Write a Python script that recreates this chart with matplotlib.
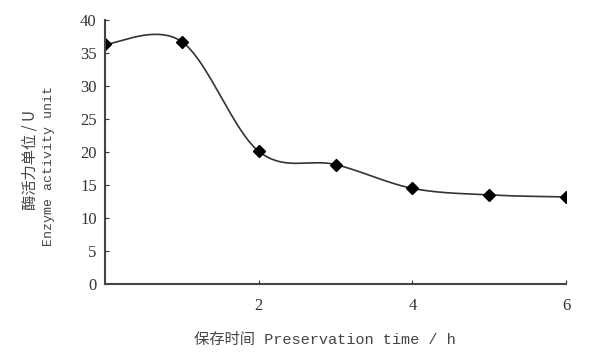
import numpy as np
import matplotlib
matplotlib.use("Agg")
import matplotlib.pyplot as plt

hours = [0, 1, 2, 3, 4, 5, 6]
activity = [36.3, 36.7, 20.1, 18.1, 14.5, 13.5, 13.2]
xticks = [2, 4, 6]
yticks = [0, 5, 10, 15, 20, 25, 30, 35, 40]

plt.rcParams['font.family'] = ['Liberation Serif', 'Noto Sans CJK SC']

def smooth(x, y, n=40, t=0.5):
    x = np.asarray(x, float); y = np.asarray(y, float)
    px = np.concatenate([[x[0]], x, [x[-1]]])
    py = np.concatenate([[y[0]], y, [y[-1]]])
    X, Y = [], []
    for i in range(1, len(px) - 2):
        p0 = np.array([px[i-1], py[i-1]]); p1 = np.array([px[i], py[i]])
        p2 = np.array([px[i+1], py[i+1]]); p3 = np.array([px[i+2], py[i+2]])
        c1 = p1 + (p2 - p0) * t / 3
        c2 = p2 - (p3 - p1) * t / 3
        s = np.linspace(0, 1, n)[:, None]
        b = (1-s)**3*p1 + 3*(1-s)**2*s*c1 + 3*(1-s)*s**2*c2 + s**3*p2
        X.extend(b[:, 0]); Y.extend(b[:, 1])
    return X, Y

fig = plt.figure(figsize=(5.97, 3.56), dpi=100)
ax = fig.add_axes([0.176, 0.202, 0.772, 0.742])
sx, sy = smooth(hours, activity)
ax.plot(sx, sy, color='#333333', lw=1.2)
ax.plot(hours, activity, linestyle='none', marker='D', ms=6.5, color='black')
ax.set_xlim(0, 6)
ax.set_ylim(0, 40)
ax.set_xticks(xticks)
ax.set_yticks(yticks)
ax.tick_params(direction='in', length=3, labelsize=12, colors='#333333', pad=6)
ax.tick_params(axis='x', pad=10)
for s in ['top', 'right']:
    ax.spines[s].set_visible(False)
for s in ['left', 'bottom']:
    ax.spines[s].set_linewidth(1.5)
    ax.spines[s].set_color('#444444')
fig.text(0.05, 0.55, '酶活力单位 / U', rotation=90, ha='center', va='center',
         fontsize=11, color='#444444', family=['Noto Sans CJK SC', 'Liberation Mono'])
fig.text(0.082, 0.535, 'Enzyme activity unit', rotation=90, ha='center', va='center',
         fontsize=9.5, color='#444444', family=['Liberation Mono'])
fig.text(0.545, 0.045, '保存时间 Preservation time / h', ha='center', va='center',
         fontsize=11, color='#444444', family=['Liberation Mono', 'Noto Sans CJK SC'])
fig.savefig('out.png', dpi=100)
